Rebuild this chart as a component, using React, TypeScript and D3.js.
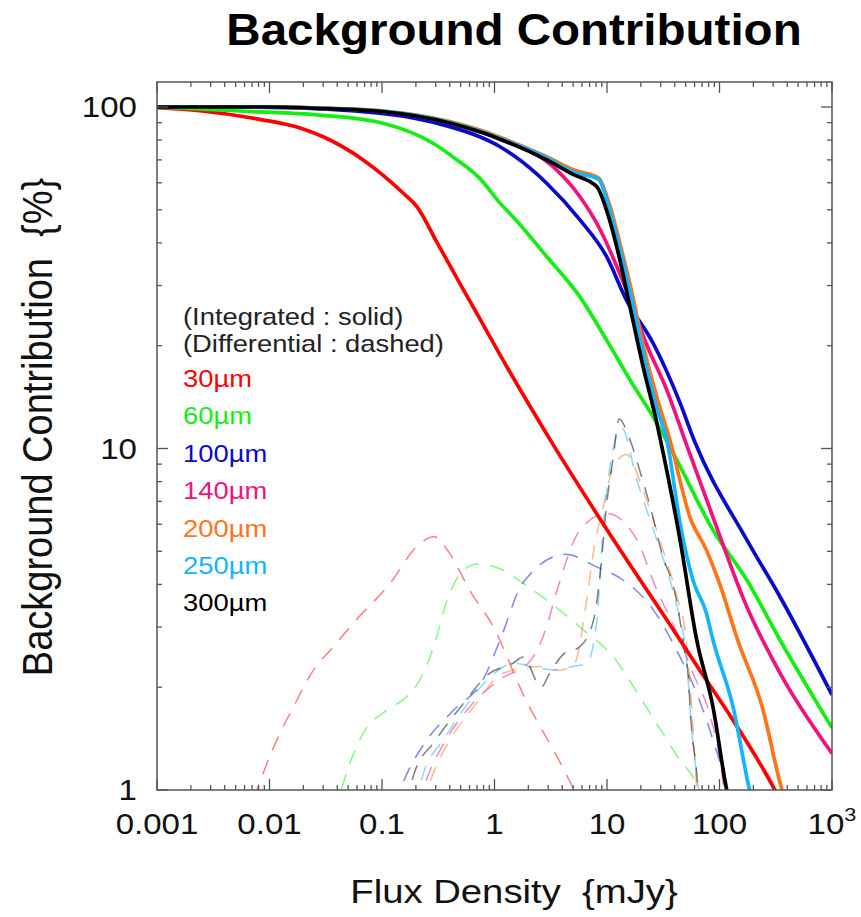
import React from "react";
import * as d3 from "d3";

type P = [number, number];

// Integrated (solid) background contribution, % vs flux density (mJy)
const int30: P[] = [[0.001,99.5],[0.0024,97.5],[0.0082,92],[0.0187,86.8],[0.03,81.8],[0.068,70],[0.154,56],[0.205,51],[0.31,40],[0.525,29.3],[0.74,24.0],[1.12,18.8],[3.3,10.3],[9.3,6.0],[44.6,2.75],[67,2.24],[132,1.6],[311,1.0],[400,0.85]];
const int60: P[] = [[0.001,100],[0.0067,97],[0.0264,94.8],[0.102,89.6],[0.284,78.3],[0.464,70],[0.74,61.8],[1.12,52.3],[1.46,47.7],[2.91,36.5],[5.75,27.8],[9.9,20.8],[16,15.9],[25.6,12.4],[38.9,9.68],[87.5,5.77],[175,4.12],[345,2.75],[1000,1.52]];
const int100: P[] = [[0.001,100],[0.01,99.8],[0.1,95.8],[0.4,87.6],[0.74,81.8],[1.12,76.5],[1.46,72.3],[2.91,59.8],[5.75,46.7],[9.9,36.5],[14.9,27.2],[25.8,20.3],[44.6,13.6],[60,10.5],[175,5.4],[345,3.68],[1000,1.9]];
const int140: P[] = [[0.001,100],[0.01,100],[0.1,97],[0.4,89.8],[0.79,84],[1.12,80.5],[3.3,67],[5.75,54.6],[8.7,43.7],[11.2,36.5],[14.9,29.1],[22.3,20.3],[34.1,14.8],[50.7,10.3],[87.5,6.3],[175,3.44],[345,2.2],[1000,1.28]];
const int200: P[] = [[0.001,100],[0.01,100],[0.0264,99.3],[0.1,97.4],[0.4,90.6],[0.79,85],[1.12,81.5],[2.91,71.5],[5,65.5],[8.4,62],[10.3,53],[13,40],[16.5,29],[21,20],[28,14],[36.2,10.6],[54.6,6.3],[76.6,5.04],[100,4.03],[145,2.75],[240,1.75],[360,1.0],[400,0.9]];
const int250: P[] = [[0.001,100],[0.01,100],[0.0264,99.2],[0.1,97.2],[0.4,90.2],[0.79,84.5],[1.12,81],[2.91,71],[5,64.5],[8.4,61.5],[10.2,52],[13,38.5],[16.5,27.5],[21,19],[28,13],[34,10.6],[44.6,6.05],[58,4.12],[76.6,3.29],[87.5,2.75],[132,1.75],[185,1.0],[200,0.9]];
const int300: P[] = [[0.001,100],[0.01,100],[0.0264,99.1],[0.1,97],[0.4,89.8],[0.79,84],[1.12,80.5],[2.91,70],[5,63.5],[8.1,58.5],[9.9,49.9],[12.8,36.5],[16,26],[20.9,17.4],[27.7,11.9],[30.6,10.2],[44.6,5.4],[62.7,2.75],[87.5,1.75],[116,1.0],[130,0.85]];

// Differential (dashed)
const dif30: P[] = [[0.006,0.8],[0.0077,1.0],[0.0116,1.4],[0.0163,1.75],[0.0245,2.24],[0.037,2.63],[0.059,3.15],[0.118,4.03],[0.204,5.16],[0.288,5.52],[0.4,4.93],[0.6,3.85],[0.98,3.0],[1.78,1.92],[4.3,1.12],[5.5,0.95]];
const dif60: P[] = [[0.038,0.85],[0.0454,1.05],[0.0684,1.47],[0.11,1.71],[0.154,1.84],[0.2,2.01],[0.288,2.63],[0.38,3.6],[0.5,4.31],[0.7,4.59],[1.2,4.4],[1.46,4.22],[2.91,3.6],[5.75,3.0],[11.4,2.45],[22.3,1.75],[44.6,1.22],[62.7,1.03],[70,0.9]];
const dif100: P[] = [[0.13,0.9],[0.154,1.05],[0.25,1.4],[0.43,1.71],[0.79,2.1],[1.12,2.75],[1.78,4.03],[4.3,4.9],[8.1,4.5],[13.9,4.12],[25.8,3.37],[44.6,2.45],[62.7,1.92],[87.5,1.4],[106,1.12],[115,0.95]];
const dif140: P[] = [[0.21,0.9],[0.256,1.1],[0.37,1.4],[0.6,1.75],[1.1,2.1],[2.1,2.4],[2.9,3.0],[3.6,3.85],[5.75,5.77],[9.9,6.46],[18.4,5.4],[27.7,3.85],[39.7,3.0],[58,2.2],[83,1.64],[100,1.25],[109,1.02],[115,0.9]];
const dif200: P[] = [[0.23,0.9],[0.28,1.1],[0.4,1.4],[0.65,1.75],[1.2,2.2],[2.6,2.3],[3.6,2.24],[5,2.3],[6.6,3.6],[7.6,5.0],[9.5,7.0],[11.4,8.85],[14.9,9.6],[20.9,7.55],[29.4,5.4],[41.8,3.68],[50.7,2.75],[56,1.84],[63,1.0],[65,0.9]];
const dif250: P[] = [[0.2,0.9],[0.23,1.1],[0.35,1.4],[0.55,1.75],[1.0,2.2],[1.5,2.35],[2.2,2.3],[3.3,2.25],[5,2.3],[6.6,2.35],[8.1,3.1],[9.3,6.0],[11,9.5],[13.5,11.5],[18.4,8.1],[27.7,5.4],[39.7,3.68],[50.7,2.45],[56,1.57],[67,0.95]];
const dif300: P[] = [[0.17,0.9],[0.19,1.1],[0.3,1.4],[0.5,1.75],[0.91,2.2],[1.46,2.35],[1.8,2.45],[2.6,2.0],[3.1,2.2],[4.1,2.5],[5.75,2.63],[7.6,3.15],[8.7,4.3],[9.9,6.8],[11.4,9.5],[12.8,12.2],[16,10.6],[19.9,8.45],[24.1,6.8],[31.5,4.8],[39.7,3.85],[47.4,2.75],[53,2.1],[56,1.57],[62.7,1.12],[66,0.9]];

const bands = ["30", "60", "100", "140", "200", "250", "300"];
const colors = ["#ff0000", "#14ee14", "#0a0acc", "#f0127e", "#ff7418", "#14b4ff", "#000000"];
const integrated = [int30, int60, int100, int140, int200, int250, int300];
const differential = [dif30, dif60, dif100, dif140, dif200, dif250, dif300];

const xTickVals = [0.001, 0.01, 0.1, 1, 10, 100, 1000];
const xTickLabels = ["0.001", "0.01", "0.1", "1", "10", "100", "10"];
const yTickVals = [1, 10, 100];
const yTickLabels = ["1", "10", "100"];

const FONT = "'Liberation Sans', Arial, Helvetica, sans-serif";
const SX = 1.14;

const W = 861, H = 917;
const L = 157, R = 832, T = 82, B = 790;
const Y100 = 107;

export default function App() {
  const x = d3.scaleLog().domain([0.001, 1000]).range([L, R]);
  const perDecade = (B - Y100) / 2;
  const yTop = Math.pow(10, 2 + (Y100 - T) / perDecade);
  const y = d3.scaleLog().domain([1, yTop]).range([B, T]);
  const lineGen = d3.line<P>().x(d => x(d[0])).y(d => y(d[1])).curve(d3.curveMonotoneX);

  const xMinor: number[] = [];
  for (let e = -3; e < 3; e++) for (let k = 2; k <= 9; k++) xMinor.push(k * Math.pow(10, e));
  const yMinor: number[] = [];
  for (let e = 0; e < 2; e++) for (let k = 2; k <= 9; k++) yMinor.push(k * Math.pow(10, e));

  const axisColor = "#555";
  const major = 11, minor = 5;

  return (
    <svg width={W} height={H} style={{ position: "absolute", left: 0, top: 0, display: "block" }} fontFamily={FONT}>
      <defs>
        <clipPath id="plotclip">
          <rect x={L} y={T} width={R - L} height={B - T} />
        </clipPath>
      </defs>
      <rect x={0} y={0} width={W} height={H} fill="#fff" />

      {/* title */}
      <text transform={`translate(514,45) scale(1.08,1)`} textAnchor="middle" fontSize={44} fontWeight="bold" fill="#000">
        Background Contribution
      </text>

      {/* data */}
      <g clipPath="url(#plotclip)">
        {differential.map((d, i) => (
          <path key={"d" + i} d={lineGen(d) || ""} fill="none" stroke={colors[i]} strokeOpacity={0.5}
            strokeWidth={1.5} strokeDasharray="15,11" />
        ))}
        {integrated.map((d, i) => (
          <path key={"s" + i} d={lineGen(d) || ""} fill="none" stroke={colors[i]} strokeWidth={3.7}
            strokeLinejoin="round" />
        ))}
      </g>

      {/* frame */}
      <rect x={L} y={T} width={R - L} height={B - T} fill="none" stroke={axisColor} strokeWidth={1.5} />
      {xTickVals.map(v => (
        <g key={"xt" + v} stroke={axisColor} strokeWidth={1.3}>
          <line x1={x(v)} x2={x(v)} y1={B} y2={B - major} />
          <line x1={x(v)} x2={x(v)} y1={T} y2={T + major} />
        </g>
      ))}
      {xMinor.map(v => (
        <g key={"xm" + v} stroke={axisColor} strokeWidth={1.3}>
          <line x1={x(v)} x2={x(v)} y1={B} y2={B - minor} />
          <line x1={x(v)} x2={x(v)} y1={T} y2={T + minor} />
        </g>
      ))}
      {yTickVals.map(v => (
        <g key={"yt" + v} stroke={axisColor} strokeWidth={1.3}>
          <line x1={L} x2={L + major} y1={y(v)} y2={y(v)} />
          <line x1={R} x2={R - major} y1={y(v)} y2={y(v)} />
        </g>
      ))}
      {yMinor.map(v => (
        <g key={"ym" + v} stroke={axisColor} strokeWidth={1.3}>
          <line x1={L} x2={L + minor} y1={y(v)} y2={y(v)} />
          <line x1={R} x2={R - minor} y1={y(v)} y2={y(v)} />
        </g>
      ))}

      {/* tick labels */}
      {xTickVals.map((v, i) => (
        <text key={"xl" + v} transform={`translate(${x(v)},834) scale(${SX},1)`} textAnchor="middle" fontSize={29} fill="#111">
          {xTickLabels[i]}
          {i === xTickVals.length - 1 ? <tspan fontSize={19} dy={-13}>3</tspan> : null}
        </text>
      ))}
      {yTickVals.map((v, i) => (
        <text key={"yl" + v} transform={`translate(137,${y(v) + 10}) scale(${SX},1)`} textAnchor="end" fontSize={29} fill="#111">
          {yTickLabels[i]}
        </text>
      ))}

      {/* axis titles */}
      <text transform={`translate(514,903) scale(1.16,1)`} textAnchor="middle" fontSize={33} fill="#111">
        {"Flux Density\u00a0\u00a0{mJy}"}
      </text>
      <text transform={`translate(52,427) scale(${SX},1) rotate(-90)`} textAnchor="middle" fontSize={38} fill="#111">
        {"Background Contribution\u00a0\u00a0{%}"}
      </text>

      {/* legend */}
      <text transform={`translate(183,325) scale(${SX},1)`} fontSize={24} fill="#222">(Integrated : solid)</text>
      <text transform={`translate(183,352) scale(${SX},1)`} fontSize={24} fill="#222">(Differential : dashed)</text>
      {bands.map((b, i) => (
        <text key={"lg" + b} transform={`translate(183,${387 + i * 37.4}) scale(${SX},1)`} fontSize={24} fill={colors[i]}>
          {b}µm
        </text>
      ))}
    </svg>
  );
}
